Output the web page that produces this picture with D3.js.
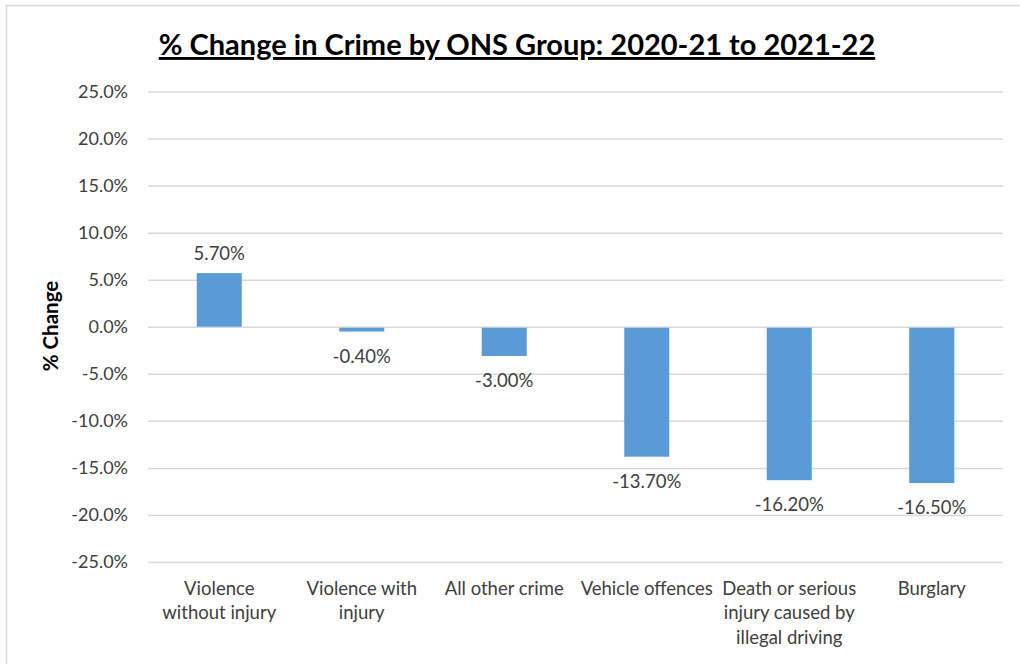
<!DOCTYPE html>
<html>
<head>
<meta charset="utf-8">
<script src="https://cdn.jsdelivr.net/npm/d3@7"></script>
<style>
  body { margin: 0; background: #fff; }
  text { font-family: Lato, "Open Sans", sans-serif; }
</style>
</head>
<body>
<div id="chart"></div>
<script>
const WIDTH = 1020;
const HEIGHT = 664;

// chart data
const categories = [
  'Violence without injury',
  'Violence with injury',
  'All other crime',
  'Vehicle offences',
  'Death or serious injury caused by illegal driving',
  'Burglary'
];
const categoryLines = [
  ['Violence', 'without injury'],
  ['Violence with', 'injury'],
  ['All other crime'],
  ['Vehicle offences'],
  ['Death or serious', 'injury caused by', 'illegal driving'],
  ['Burglary']
];
const changes = [5.7, -0.4, -3.0, -13.7, -16.2, -16.5];
const yTicks = [25, 20, 15, 10, 5, 0, -5, -10, -15, -20, -25];

const plot = { left: 148, right: 1003, top: 91.5, bottom: 562 };

const svg = d3.select('#chart')
  .append('svg')
    .attr('width', WIDTH)
    .attr('height', HEIGHT);

// chart frame (only top and left edges show in the crop)
svg.append('rect')
  .attr('x', 6.5).attr('y', 5.5)
  .attr('width', 1030).attr('height', 700)
  .attr('fill', 'none')
  .attr('stroke', '#d9d9d9')
  .attr('stroke-width', 1.5);

const x = d3.scaleBand()
  .domain(categories)
  .range([plot.left, plot.right])
  .paddingInner(0.684)
  .paddingOuter(0.342);

const y = d3.scaleLinear()
  .domain([-25, 25])
  .range([plot.bottom, plot.top]);

// gridlines + tick labels
const yAxis = d3.axisLeft(y)
  .tickValues(yTicks)
  .tickSize(-(plot.right - plot.left))
  .tickPadding(20)
  .tickFormat(d => d.toFixed(1) + '%');

svg.append('g')
  .attr('transform', `translate(${plot.left}, 0)`)
  .call(yAxis)
  .call(g => g.select('.domain').remove())
  .call(g => g.selectAll('.tick line').attr('stroke', '#d9d9d9').attr('stroke-width', 1.5))
  .call(g => g.selectAll('.tick text')
    .attr('fill', '#404040')
    .attr('font-size', 18)
    .style('font-family', 'Lato, sans-serif'));

// bars
svg.selectAll('.bar')
  .data(changes)
  .enter()
    .append('rect')
    .attr('class', 'bar')
    .attr('x', (d, i) => x(categories[i]))
    .attr('width', x.bandwidth())
    .attr('y', d => d >= 0 ? y(d) : y(0) + 1)
    .attr('height', d => Math.abs(y(d) - y(0)))
    .attr('fill', '#5b9bd5');

// value labels
svg.selectAll('.value')
  .data(changes)
  .enter()
    .append('text')
    .attr('class', 'value')
    .attr('x', (d, i) => x(categories[i]) + x.bandwidth() / 2)
    .attr('y', d => d >= 0 ? y(d) - 13 : y(d) + 32)
    .attr('text-anchor', 'middle')
    .attr('font-size', 18.5)
    .attr('fill', '#404040')
    .text(d => d.toFixed(2) + '%');

// category labels
const cat = svg.selectAll('.cat')
  .data(categoryLines)
  .enter()
    .append('text')
    .attr('class', 'cat')
    .attr('text-anchor', 'middle')
    .attr('font-size', 18.5)
    .attr('fill', '#404040');

cat.selectAll('tspan')
  .data((lines, i) => lines.map(l => ({ l, i })))
  .enter()
    .append('tspan')
    .attr('x', d => x(categories[d.i]) + x.bandwidth() / 2)
    .attr('y', (d, j) => 594.5 + j * 24.5)
    .text(d => d.l);

// axis title
svg.append('text')
  .attr('transform', 'translate(58, 326) rotate(-90)')
  .attr('text-anchor', 'middle')
  .attr('font-size', 20.5)
  .attr('font-weight', 'bold')
  .attr('fill', '#000')
  .text('% Change');

// chart title
svg.append('text')
  .attr('x', 517)
  .attr('y', 55)
  .attr('text-anchor', 'middle')
  .attr('font-size', 29)
  .attr('font-weight', 'bold')
  .attr('text-decoration', 'underline')
  .attr('fill', '#000')
  .text('% Change in Crime by ONS Group: 2020-21 to 2021-22');
</script>
</body>
</html>
